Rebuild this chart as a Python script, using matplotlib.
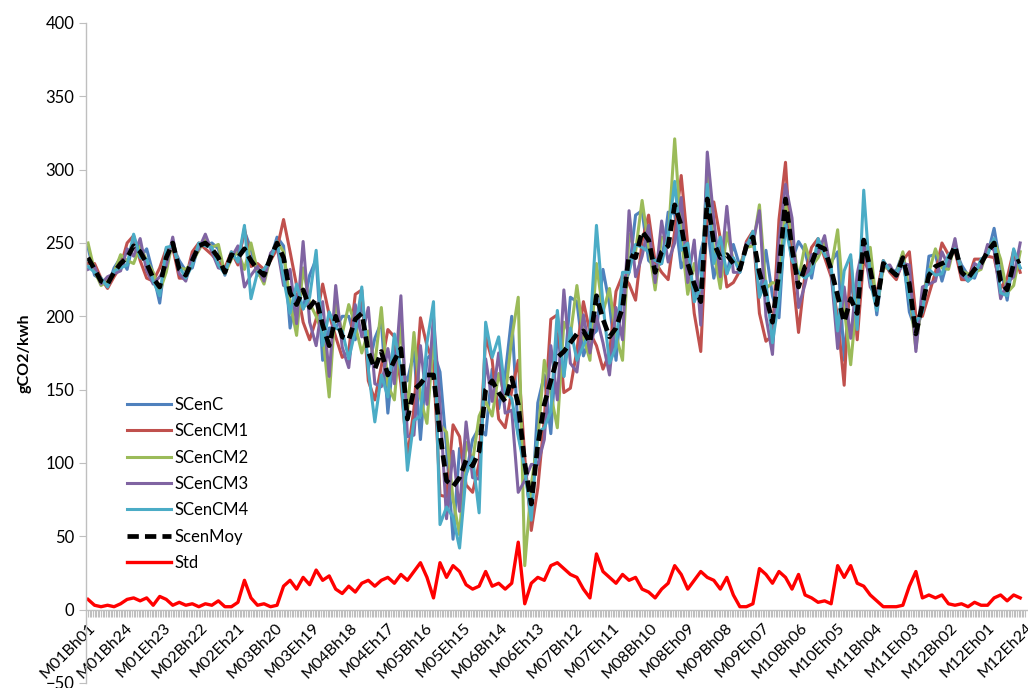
import numpy as np
import matplotlib
matplotlib.use('Agg')
import matplotlib.pyplot as plt
from matplotlib.ticker import FixedLocator, MultipleLocator

plt.rcParams['font.family'] = ['Lato', 'DejaVu Sans']

# categories: month x (B/E) x hour
categories = ["M%02d%sh%02d" % (m, t, h) for m in range(1, 13) for t in "BE" for h in range(1, 25)]
# values read every 4th category
sampled = categories[::4]

scen_c = [247, 228, 225, 220, 233, 240, 232, 252, 240, 246,
          229, 209, 244, 248, 238, 231, 233, 249, 248, 250,
          246, 228, 243, 237, 258, 246, 228, 230, 239, 254,
          248, 192, 215, 205, 228, 239, 170, 192, 192, 200,
          200, 184, 211, 164, 185, 196, 134, 179, 164, 156,
          176, 116, 171, 176, 162, 110, 48, 110, 92, 116,
          124, 119, 164, 137, 160, 200, 120, 98, 61, 141,
          160, 120, 188, 159, 213, 210, 173, 186, 190, 232,
          208, 170, 218, 230, 269, 272, 238, 234, 236, 271,
          270, 233, 243, 210, 244, 262, 226, 247, 229, 249,
          234, 246, 256, 213, 245, 214, 199, 270, 238, 251,
          244, 226, 251, 242, 237, 244, 170, 227, 191, 248,
          242, 201, 237, 231, 231, 243, 203, 190, 203, 241,
          242, 224, 240, 246, 235, 228, 226, 238, 242, 260,
          234, 211, 241, 233]
scen_cm1 = [236, 236, 226, 219, 227, 234, 250, 255, 238, 226,
            224, 233, 246, 247, 226, 226, 244, 250, 246, 242,
            237, 233, 244, 235, 260, 234, 236, 232, 238, 246,
            266, 244, 221, 196, 184, 198, 222, 201, 186, 172,
            176, 215, 218, 156, 143, 166, 191, 186, 154, 104,
            137, 199, 180, 168, 78, 77, 126, 118, 85, 80,
            100, 186, 170, 130, 124, 149, 170, 104, 54, 83,
            130, 198, 201, 148, 151, 177, 210, 189, 180, 164,
            175, 217, 228, 222, 211, 251, 269, 237, 230, 225,
            258, 296, 249, 202, 176, 272, 278, 253, 220, 223,
            231, 251, 258, 202, 183, 187, 266, 305, 232, 189,
            229, 247, 253, 240, 227, 199, 153, 239, 184, 240,
            227, 216, 238, 230, 225, 238, 244, 200, 200, 215,
            230, 250, 242, 245, 225, 225, 239, 239, 241, 240,
            219, 226, 245, 230]
scen_cm2 = [250, 231, 221, 224, 230, 242, 238, 236, 248, 238,
            230, 217, 230, 252, 233, 232, 237, 245, 253, 247,
            249, 229, 239, 244, 232, 250, 231, 222, 241, 251,
            244, 210, 187, 233, 209, 200, 188, 145, 210, 188,
            208, 194, 175, 190, 167, 206, 153, 143, 195, 134,
            189, 144, 127, 186, 126, 121, 75, 51, 114, 101,
            132, 142, 132, 161, 145, 185, 213, 30, 85, 116,
            170, 147, 124, 196, 187, 221, 186, 170, 236, 203,
            219, 187, 170, 256, 244, 279, 248, 218, 254, 252,
            321, 255, 215, 236, 215, 300, 244, 219, 257, 238,
            235, 247, 248, 276, 219, 223, 222, 276, 256, 225,
            249, 234, 240, 250, 233, 259, 206, 167, 215, 244,
            247, 206, 233, 233, 228, 244, 217, 178, 214, 230,
            246, 233, 232, 250, 231, 229, 230, 232, 246, 252,
            239, 216, 221, 244]
scen_cm3 = [232, 234, 222, 227, 229, 231, 246, 241, 253, 231,
            222, 227, 234, 254, 229, 224, 241, 246, 256, 244,
            233, 232, 240, 248, 220, 228, 234, 224, 243, 248,
            221, 232, 195, 251, 196, 180, 210, 159, 221, 179,
            165, 208, 186, 206, 154, 152, 178, 154, 214, 118,
            119, 180, 140, 200, 140, 62, 108, 67, 128, 90,
            89, 171, 142, 175, 134, 136, 80, 88, 99, 99,
            116, 180, 143, 218, 168, 162, 201, 175, 200, 182,
            160, 206, 184, 272, 227, 241, 262, 223, 265, 237,
            250, 281, 223, 252, 194, 312, 266, 227, 275, 230,
            230, 250, 250, 272, 200, 174, 251, 290, 267, 206,
            222, 242, 243, 255, 230, 178, 220, 185, 229, 250,
            220, 213, 234, 235, 227, 236, 235, 176, 220, 222,
            224, 244, 234, 253, 228, 224, 236, 233, 249, 245,
            212, 223, 227, 250]
scen_cm4 = [234, 230, 226, 220, 231, 233, 235, 256, 240, 239,
            224, 214, 247, 248, 234, 226, 235, 250, 248, 247,
            235, 229, 244, 237, 262, 212, 230, 232, 239, 251,
            226, 202, 222, 205, 213, 245, 180, 203, 192, 190,
            171, 190, 220, 164, 128, 160, 145, 188, 164, 95,
            129, 132, 182, 210, 58, 70, 63, 42, 92, 104,
            66, 196, 172, 186, 148, 144, 118, 96, 61, 121,
            124, 135, 204, 159, 192, 170, 180, 190, 262, 208,
            168, 179, 230, 230, 249, 247, 244, 238, 236, 255,
            292, 245, 250, 210, 220, 290, 236, 254, 229, 240,
            230, 247, 258, 213, 224, 182, 212, 262, 238, 230,
            226, 230, 253, 242, 234, 190, 231, 242, 191, 286,
            224, 204, 238, 231, 229, 238, 211, 196, 203, 232,
            228, 229, 242, 246, 232, 224, 228, 239, 242, 253,
            216, 214, 246, 233]
scen_moy = [240, 232, 224, 222, 230, 236, 240, 248, 244, 236,
            226, 220, 240, 250, 232, 228, 238, 248, 250, 246,
            240, 230, 242, 240, 246, 238, 232, 228, 240, 250,
            240, 216, 208, 218, 206, 212, 194, 180, 200, 186,
            184, 198, 202, 176, 164, 176, 160, 170, 178, 130,
            150, 154, 160, 160, 120, 88, 84, 90, 102, 98,
            108, 150, 156, 148, 142, 158, 140, 100, 72, 112,
            140, 156, 172, 176, 182, 188, 190, 182, 214, 198,
            186, 192, 206, 242, 240, 258, 252, 230, 244, 248,
            276, 262, 236, 222, 210, 280, 250, 240, 242, 236,
            232, 248, 254, 230, 214, 196, 230, 280, 246, 220,
            234, 236, 248, 246, 232, 214, 196, 212, 202, 252,
            232, 208, 236, 232, 228, 240, 222, 188, 208, 228,
            234, 236, 238, 248, 230, 226, 232, 236, 244, 250,
            224, 218, 236, 238]
std = [7, 3, 2, 3, 2, 4, 7, 8, 6, 8,
       3, 9, 7, 3, 5, 3, 4, 2, 4, 3,
       6, 2, 2, 5, 20, 8, 3, 4, 2, 3,
       16, 20, 14, 22, 17, 27, 20, 23, 14, 11,
       16, 12, 18, 20, 16, 20, 22, 18, 24, 20,
       26, 32, 22, 8, 32, 22, 30, 26, 17, 14,
       16, 26, 16, 18, 14, 18, 46, 4, 18, 22,
       20, 30, 32, 28, 24, 22, 14, 8, 38, 26,
       22, 18, 24, 20, 22, 14, 12, 8, 14, 18,
       30, 24, 14, 20, 26, 22, 20, 14, 22, 10,
       2, 2, 4, 28, 24, 18, 26, 22, 14, 24,
       10, 8, 5, 6, 4, 30, 22, 30, 18, 16,
       10, 6, 2, 2, 2, 3, 16, 26, 8, 10,
       8, 10, 4, 3, 4, 2, 5, 3, 3, 8,
       10, 6, 10, 8]

tick_labels = categories[::23]

fig = plt.figure(figsize=(10.28, 6.88), dpi=100)
ax = fig.add_axes([0.0837, 0.0073, 0.9163, 0.9593])

xpos = np.array([categories.index(c) for c in sampled])

series = [("SCenC", scen_c, "#4F81BD"),
          ("SCenCM1", scen_cm1, "#C0504D"),
          ("SCenCM2", scen_cm2, "#9BBB59"),
          ("SCenCM3", scen_cm3, "#8064A2"),
          ("SCenCM4", scen_cm4, "#4BACC6")]
for name, vals, col in series:
    ax.plot(xpos, vals, color=col, lw=2.2, label=name)
ax.plot(xpos, scen_moy, color="black", lw=3.4, dashes=(2.4, 1.3), label="ScenMoy")
ax.plot(xpos, std, color="#FF0000", lw=2.4, label="Std")

ax.set_xlim(-1.2, 576.8)
ax.set_ylim(-50, 400)
ax.yaxis.set_major_locator(MultipleLocator(50))

ax.spines['top'].set_visible(False)
ax.spines['right'].set_visible(False)
ax.spines['bottom'].set_position(('data', 0))
for s in ('left', 'bottom'):
    ax.spines[s].set_color('#BFBFBF')
    ax.spines[s].set_linewidth(1.0)

ax.xaxis.set_major_locator(FixedLocator([categories.index(t) for t in tick_labels]))
ax.set_xticklabels(tick_labels, rotation=45, ha='right', rotation_mode='anchor', fontsize=11.5)
ax.xaxis.set_minor_locator(FixedLocator(np.arange(len(categories))))
ax.tick_params(axis='x', which='both', direction='out', length=5, color='#BFBFBF', width=0.8, pad=3)
ax.tick_params(axis='y', which='major', direction='out', length=5, color='#BFBFBF', labelsize=12)

ax.set_ylabel("gCO2/kwh", fontsize=11.5, fontweight='bold', labelpad=10)

ax.legend(loc='upper left', bbox_to_anchor=(0.124, 0.423), bbox_transform=fig.transFigure,
          frameon=False, fontsize=12, handlelength=2.6, handletextpad=0.25,
          labelspacing=0.62, borderpad=0, borderaxespad=0)

plt.savefig("out.png", dpi=100)
